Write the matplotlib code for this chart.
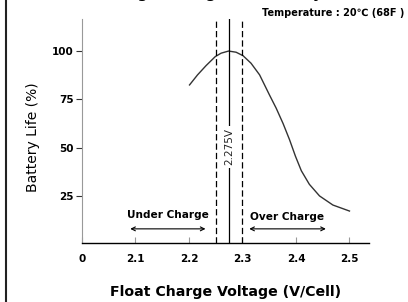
import matplotlib
matplotlib.use("Agg")
import matplotlib.pyplot as plt
from matplotlib.lines import Line2D

# data
volts = [2.201, 2.216, 2.232, 2.249, 2.260, 2.274, 2.288, 2.301, 2.316,
         2.332, 2.3505, 2.363, 2.376, 2.388, 2.399, 2.410, 2.425, 2.444,
         2.469, 2.500]
life = [82.3, 87.5, 92.3, 96.9, 98.7, 99.8, 99.2, 97.4, 93.5,
        87.5, 77.1, 70.3, 62.3, 54.0, 45.5, 38.0, 31.0, 25.0,
        20.3, 17.2]

xticks = [2.0, 2.1, 2.2, 2.3, 2.4, 2.5]
xticklabels = ['0', '2.1', '2.2', '2.3', '2.4', '2.5']
yticks = [25, 50, 75, 100]

v_low, v_mid, v_high = 2.25, 2.275, 2.30

fig = plt.figure(figsize=(4.08, 3.02), dpi=100)
ax = fig.add_axes([82/408, 1-243/302, (369-82)/408, (243-18.7)/302])

ax.plot(volts, life, color='#333333', lw=1.0, solid_joinstyle='round')

ax.axvline(v_low, color='black', lw=0.9, ls=(0, (5, 2.5)))
ax.axvline(v_high, color='black', lw=0.9, ls=(0, (5, 2.5)))
ax.axvline(v_mid, color='black', lw=0.9)

ax.text(v_mid, 50.3, '2.275V', rotation=90, ha='center', va='center',
        fontsize=7.5, color='#222222',
        bbox=dict(facecolor='white', edgecolor='none', pad=2))

# charge region arrows
ax.annotate('', xy=(2.085, 8), xytext=(2.236, 8),
            arrowprops=dict(arrowstyle='<->', lw=0.8, color='black',
                            mutation_scale=7))
ax.annotate('', xy=(2.3075, 8), xytext=(2.461, 8),
            arrowprops=dict(arrowstyle='<->', lw=0.8, color='black',
                            mutation_scale=7))
ax.text(2.1605, 15.2, 'Under Charge', ha='center', va='center',
        fontsize=7.6, fontweight='bold')
ax.text(2.3835, 14.2, 'Over Charge', ha='center', va='center',
        fontsize=7.6, fontweight='bold')

ax.set_xlim(2.0, 2.5365)
ax.set_ylim(0.7, 116.5)
ax.set_xticks(xticks)
ax.set_xticklabels(xticklabels, fontsize=7.5, fontweight='bold')
ax.set_yticks(yticks)
ax.set_yticklabels([str(t) for t in yticks], fontsize=7.5, fontweight='bold')
ax.tick_params(axis='x', direction='in', length=4, color='#999999', pad=8)
ax.tick_params(axis='y', direction='out', length=4, color='#333333', pad=2)

for s in ['top', 'right']:
    ax.spines[s].set_visible(False)
ax.spines['left'].set_color('#999999')
ax.spines['left'].set_linewidth(0.8)
ax.spines['bottom'].set_color('black')
ax.spines['bottom'].set_linewidth(1.0)

fig.text(226/408, 1-292/302, 'Float Charge Voltage (V/Cell)', ha='center',
         va='center', fontsize=10.2, fontweight='bold')
fig.text(33/408, 1-137/302, 'Battery Life (%)', rotation=90, ha='center',
         va='center', fontsize=10)
fig.text(404/408, 1-12.5/302, 'Temperature : 20\u2103 (68F )', ha='right',
         va='center', fontsize=7, fontweight='bold')
# title, cut off by the top edge as in the reference
fig.text(205/408, 1-(-2)/302, 'Float Charge Voltage vs. Battery Life',
         ha='center', va='baseline', fontsize=10.5, fontweight='bold')

# border line on the left
fig.add_artist(Line2D([5.5/408, 5.5/408], [0, 1], color='#222222', lw=1.5,
                      transform=fig.transFigure))

fig.savefig('out.png', dpi=100)
